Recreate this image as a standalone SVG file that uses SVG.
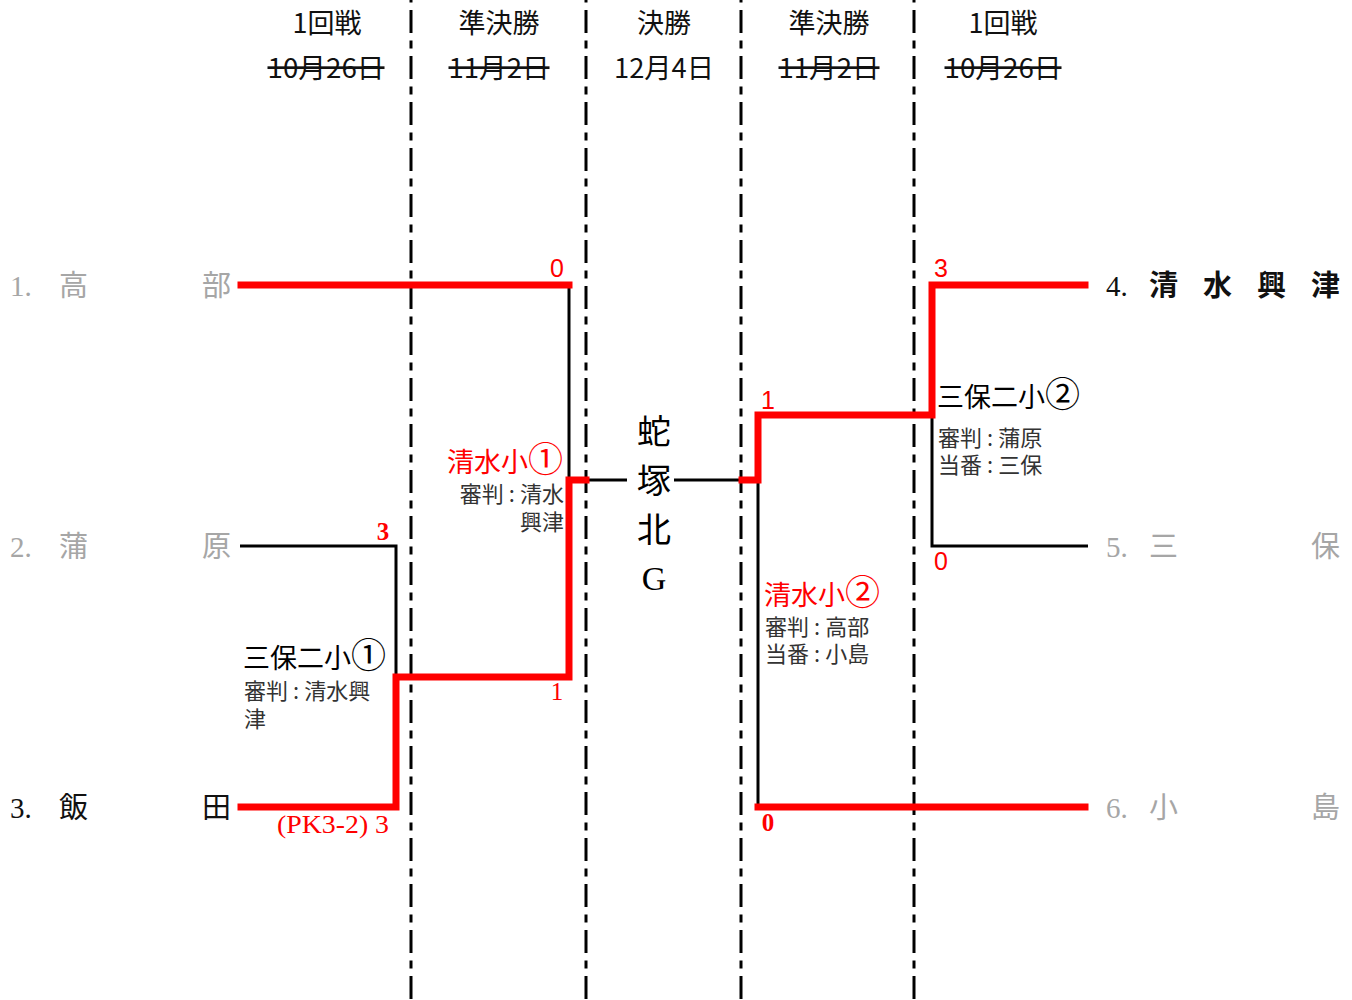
<svg xmlns="http://www.w3.org/2000/svg" width="1352" height="1000" viewBox="0 0 1352 1000">
<style>
.hdr{font-family:"Noto Sans CJK JP","Liberation Sans",sans-serif;font-size:27px;fill:#111;text-anchor:middle}
.strike{text-decoration:line-through}
.team{font-family:"Liberation Serif","Noto Sans CJK JP",serif;font-size:29px}
.gray{fill:#a6a6a6}
.blk{fill:#111}
.lbl{font-family:"Noto Sans CJK JP",sans-serif;font-size:27px}
.circ{font-size:35px}
.sub{font-family:"Noto Sans CJK JP",sans-serif;font-size:22px;fill:#333}
.sc{font-size:25px;fill:#ff0000}
.ser{font-family:"Liberation Serif",serif}
.san{font-family:"Liberation Sans",sans-serif}
.venue{font-family:"Liberation Serif","Noto Sans CJK JP",serif;font-size:34px;fill:#000;text-anchor:middle}
.div{stroke:#000;stroke-width:3;stroke-dasharray:23 7.5 8 7.5;stroke-dashoffset:36;fill:none}
.red{stroke:#ff0000;stroke-width:7;fill:none;stroke-linejoin:miter;stroke-linecap:square}
.thin{stroke:#000;stroke-width:3;fill:none}
</style>
<g id="dividers">
<line class="div" x1="411" y1="0" x2="411" y2="1000"/>
<line class="div" x1="586" y1="0" x2="586" y2="1000"/>
<line class="div" x1="741" y1="0" x2="741" y2="1000"/>
<line class="div" x1="914" y1="0" x2="914" y2="1000"/>
</g>
<g id="headers">
<text class="hdr" x="327" y="33">1回戦</text>
<text class="hdr strike" x="326" y="78" textLength="117" lengthAdjust="spacingAndGlyphs">10月26日</text>
<text class="hdr" x="499" y="33">準決勝</text>
<text class="hdr strike" x="499" y="78" textLength="101" lengthAdjust="spacingAndGlyphs">11月2日</text>
<text class="hdr" x="664" y="33">決勝</text>
<text class="hdr" x="664" y="78" textLength="100" lengthAdjust="spacingAndGlyphs">12月4日</text>
<text class="hdr" x="829" y="33">準決勝</text>
<text class="hdr strike" x="829" y="78" textLength="101" lengthAdjust="spacingAndGlyphs">11月2日</text>
<text class="hdr" x="1003" y="33">1回戦</text>
<text class="hdr strike" x="1003" y="78" textLength="117" lengthAdjust="spacingAndGlyphs">10月26日</text>
</g>
<g id="connectors">
<polyline class="thin" points="569,285 569,480"/>
<polyline class="thin" points="240,546 396,546 396,677"/>
<line class="thin" x1="586" y1="480" x2="627" y2="480"/>
<line class="thin" x1="674" y1="480" x2="742" y2="480"/>
<polyline class="thin" points="758,480 758,807"/>
<polyline class="thin" points="932,415 932,546 1088,546"/>
<polyline class="red" points="241,285 569,285"/>
<polyline class="red" points="241,807 396,807 396,677 569,677 569,480 586,480"/>
<polyline class="red" points="742,480 758,480 758,415 932,415 932,285 1085,285"/>
<polyline class="red" points="758,807 1085,807"/>
</g>
<g id="team-1"><text class="team gray" x="10" y="296">1.</text><text class="team gray" x="59" y="296">高</text><text class="team gray" x="202" y="296">部</text></g>
<g id="team-2"><text class="team gray" x="10" y="557">2.</text><text class="team gray" x="59" y="557">蒲</text><text class="team gray" x="202" y="557">原</text></g>
<g id="team-3"><text class="team blk" x="10" y="818">3.</text><text class="team blk" x="59" y="818">飯</text><text class="team blk" x="202" y="818">田</text></g>
<g id="team-4"><text class="team blk" x="1106" y="296">4.</text><text class="team blk" font-weight="bold" x="1149" y="296">清</text><text class="team blk" font-weight="bold" x="1203" y="296">水</text><text class="team blk" font-weight="bold" x="1257" y="296">興</text><text class="team blk" font-weight="bold" x="1311" y="296">津</text></g>
<g id="team-5"><text class="team gray" x="1106" y="557">5.</text><text class="team gray" x="1149" y="557">三</text><text class="team gray" x="1311" y="557">保</text></g>
<g id="team-6"><text class="team gray" x="1106" y="818">6.</text><text class="team gray" x="1149" y="818">小</text><text class="team gray" x="1311" y="818">島</text></g>
<g id="scores">
<text class="sc san" x="557" y="277" text-anchor="middle">0</text>
<text class="sc ser" font-weight="bold" x="383" y="540" text-anchor="middle">3</text>
<text class="sc ser" x="557" y="700" text-anchor="middle">1</text>
<text class="sc ser" x="277" y="833" textLength="112" lengthAdjust="spacingAndGlyphs">(PK3-2) 3</text>
<text class="sc san" x="768" y="409" text-anchor="middle">1</text>
<text class="sc san" x="941" y="277" text-anchor="middle">3</text>
<text class="sc san" x="941" y="570" text-anchor="middle">0</text>
<text class="sc ser" font-weight="bold" x="768" y="831" text-anchor="middle">0</text>
</g>
<g id="match-sf1">
<text class="lbl" fill="#ff0000" x="563" y="472" text-anchor="end">清水小<tspan class="circ">①</tspan></text>
<text class="sub" x="564" y="502" text-anchor="end">審判<tspan dx="5">:</tspan><tspan dx="5">清水</tspan></text>
<text class="sub" x="564" y="530" text-anchor="end">興津</text>
</g>
<g id="match-r1a">
<text class="lbl" fill="#000" x="243" y="668">三保二小<tspan class="circ">①</tspan></text>
<text class="sub" x="244" y="699">審判<tspan dx="5">:</tspan><tspan dx="5">清水興</tspan></text>
<text class="sub" x="244" y="727">津</text>
</g>
<g id="match-r1b">
<text class="lbl" fill="#000" x="937" y="407">三保二小<tspan class="circ">②</tspan></text>
<text class="sub" x="938" y="446">審判<tspan dx="5">:</tspan><tspan dx="5">蒲原</tspan></text>
<text class="sub" x="938" y="473">当番<tspan dx="5">:</tspan><tspan dx="5">三保</tspan></text>
</g>
<g id="match-sf2">
<text class="lbl" fill="#ff0000" x="764" y="605">清水小<tspan class="circ">②</tspan></text>
<text class="sub" x="765" y="635">審判<tspan dx="5">:</tspan><tspan dx="5">高部</tspan></text>
<text class="sub" x="765" y="662">当番<tspan dx="5">:</tspan><tspan dx="5">小島</tspan></text>
</g>
<g id="venue">
<text class="venue" x="654" y="444">蛇</text>
<text class="venue" x="654" y="493">塚</text>
<text class="venue" x="654" y="542">北</text>
<text class="venue" x="654" y="590">G</text>
</g>
</svg>
